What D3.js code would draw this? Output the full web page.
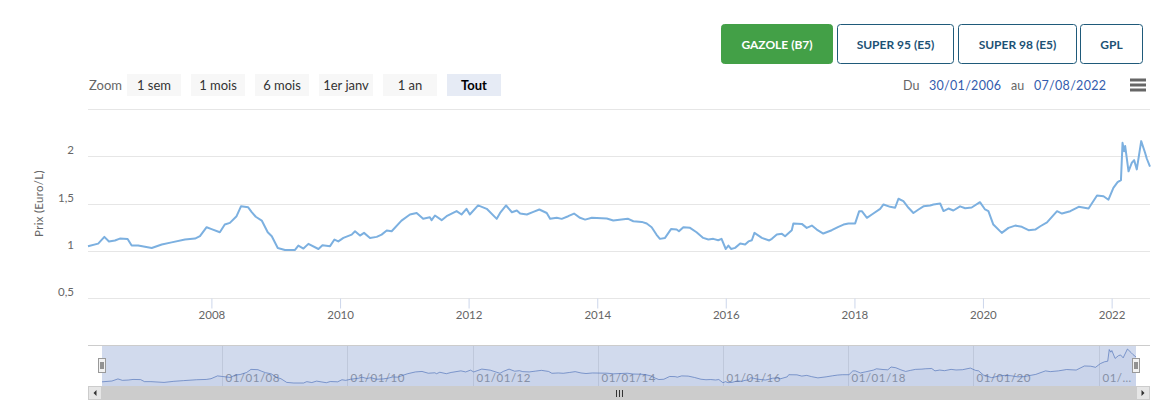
<!DOCTYPE html>
<html><head><meta charset="utf-8">
<script src="https://cdn.jsdelivr.net/npm/d3@7"></script>
<style>
html,body{margin:0;padding:0;background:#fff;}
svg{display:block;font-family:Lato,"Open Sans",sans-serif;}
</style></head>
<body><svg id="c" width="1166" height="410"></svg>
<script>
const fuelButtons = ["GAZOLE (B7)","SUPER 95 (E5)","SUPER 98 (E5)","GPL"];
const zoomButtons = ["1 sem","1 mois","6 mois","1er janv","1 an","Tout"];
const yTickValues = [0.5,1,1.5,2,2.5];
const rangeFrom = "30/01/2006", rangeTo = "07/08/2022";
const yTitle = "Prix (Euro/L)";
const dates = ["2006-01-30","2006-03-29","2006-05-03","2006-05-29","2006-07-02","2006-07-30","2006-09-12","2006-10-05","2006-11-11","2007-01-27",
"2007-03-25","2007-05-20","2007-08-04","2007-09-30","2007-10-28","2007-12-05","2008-01-02","2008-02-18","2008-03-17","2008-04-15",
"2008-05-23","2008-06-17","2008-07-28","2008-08-17","2008-09-09","2008-10-13","2008-11-16","2008-12-09","2009-01-12","2009-02-22",
"2009-04-20","2009-05-09","2009-06-07","2009-07-05","2009-08-31","2009-09-23","2009-11-05","2009-11-30","2009-12-22","2010-01-20",
"2010-03-08","2010-03-27","2010-04-24","2010-05-17","2010-06-20","2010-07-28","2010-08-25","2010-09-23","2010-10-21","2010-12-16",
"2011-02-02","2011-03-12","2011-04-18","2011-05-26","2011-06-05","2011-06-24","2011-08-01","2011-08-29","2011-10-25","2011-11-22",
"2011-12-20","2012-01-08","2012-02-24","2012-04-13","2012-06-09","2012-06-28","2012-08-01","2012-09-03","2012-10-01","2012-10-20",
"2012-11-27","2013-01-03","2013-02-06","2013-03-20","2013-04-08","2013-05-16","2013-06-13","2013-07-20","2013-08-22","2013-09-25",
"2013-10-24","2013-12-01","2014-02-24","2014-04-02","2014-06-23","2014-07-25","2014-09-11","2014-10-09","2014-11-06","2014-12-04",
"2014-12-23","2015-01-21","2015-02-24","2015-03-28","2015-04-10","2015-05-05","2015-06-12","2015-07-19","2015-08-26","2015-09-24",
"2015-10-22","2015-11-19","2015-12-08","2016-01-01","2016-01-16","2016-01-31","2016-02-23","2016-03-23","2016-04-20","2016-05-09",
"2016-05-28","2016-06-12","2016-07-24","2016-09-04","2016-09-19","2016-10-17","2016-11-15","2016-12-03","2017-01-10","2017-01-19",
"2017-03-08","2017-04-05","2017-05-04","2017-06-01","2017-07-08","2017-08-25","2017-10-02","2017-10-31","2017-11-28","2018-01-05",
"2018-01-28","2018-02-12","2018-03-13","2018-04-10","2018-05-27","2018-06-15","2018-07-23","2018-08-20","2018-09-08","2018-10-06",
"2018-11-04","2018-12-02","2018-12-31","2019-01-28","2019-03-07","2019-03-26","2019-05-03","2019-05-22","2019-06-19","2019-07-17",
"2019-08-24","2019-09-22","2019-10-29","2019-12-15","2020-01-13","2020-02-01","2020-02-29","2020-04-17","2020-05-25","2020-07-02",
"2020-08-09","2020-09-16","2020-10-24","2020-11-22","2020-12-30","2021-02-25","2021-03-25","2021-05-11","2021-06-28","2021-08-23",
"2021-10-10","2021-11-16","2021-12-14","2022-01-11","2022-02-04","2022-02-23","2022-03-04","2022-03-13","2022-03-19","2022-04-07",
"2022-04-26","2022-05-09","2022-05-24","2022-06-18","2022-07-10","2022-07-20","2022-08-07"];
const prices = [1.05,1.077,1.148,1.10,1.11,1.13,1.125,1.056,1.056,1.03,
1.067,1.09,1.12,1.13,1.155,1.25,1.23,1.197,1.278,1.296,
1.366,1.47,1.46,1.41,1.36,1.32,1.197,1.155,1.03,1.01,
1.01,1.056,1.025,1.074,1.02,1.06,1.05,1.12,1.10,1.137,
1.172,1.207,1.162,1.19,1.137,1.148,1.172,1.215,1.207,1.32,
1.384,1.40,1.34,1.355,1.324,1.373,1.324,1.366,1.42,1.384,
1.444,1.384,1.48,1.444,1.338,1.40,1.479,1.408,1.426,1.394,
1.384,1.412,1.437,1.40,1.338,1.349,1.338,1.366,1.394,1.349,
1.33,1.349,1.341,1.32,1.34,1.313,1.306,1.289,1.25,1.17,
1.127,1.137,1.23,1.225,1.207,1.25,1.243,1.197,1.137,1.12,
1.127,1.112,1.127,1.02,1.056,1.021,1.032,1.077,1.067,1.10,
1.112,1.19,1.137,1.11,1.127,1.172,1.18,1.155,1.218,1.29,
1.285,1.243,1.267,1.225,1.183,1.218,1.254,1.278,1.29,1.29,
1.419,1.419,1.349,1.384,1.444,1.49,1.465,1.455,1.55,1.524,
1.455,1.40,1.437,1.47,1.479,1.49,1.50,1.42,1.447,1.426,
1.47,1.45,1.458,1.514,1.437,1.419,1.278,1.19,1.243,1.267,
1.254,1.218,1.225,1.26,1.30,1.419,1.394,1.419,1.465,1.447,
1.585,1.577,1.54,1.665,1.725,1.746,2.14,2.05,2.106,1.84,
1.93,1.957,1.86,2.158,2.035,1.972,1.888];

(function(){
const parse = d3.timeParse("%Y-%m-%d");
const data = dates.map((d,i)=>({date:parse(d), v:prices[i]}));
const svg = d3.select("#c");

// ---- top fuel buttons
const fb = [{x:721,w:112},{x:837,w:117},{x:958,w:119},{x:1080,w:63}];
fuelButtons.forEach((t,i)=>{
  const g = svg.append("g");
  const active = i===0;
  g.append("rect").attr("x",fb[i].x+0.5).attr("y",24.5).attr("width",fb[i].w-1).attr("height",39).attr("rx",3)
    .attr("fill",active?"#43a047":"#fff").attr("stroke",active?"#43a047":"#1f5a7a").attr("stroke-width",1);
  g.append("text").attr("x",fb[i].x+fb[i].w/2).attr("y",48.5).attr("text-anchor","middle")
    .attr("font-size",12).attr("font-weight",700).attr("fill",active?"#fff":"#1d5275").text(t);
});

// ---- range selector
svg.append("text").attr("x",89).attr("y",90).attr("font-size",13).attr("fill","#666").text("Zoom");
zoomButtons.forEach((t,i)=>{
  const bx = 127 + i*64, sel = t==="Tout";
  svg.append("rect").attr("x",bx).attr("y",74).attr("width",54).attr("height",22).attr("fill",sel?"#e6ebf5":"#f7f7f7");
  svg.append("text").attr("x",bx+27).attr("y",90).attr("text-anchor","middle").attr("font-size",13)
    .attr("font-weight",sel?700:400).attr("fill",sel?"#000":"#333").text(t);
});
const dateParts = [["Du",903,"#666"],[rangeFrom,929,"#335cad"],["au",1011,"#666"],[rangeTo,1034,"#335cad"]];
dateParts.forEach(([t,tx,c])=>svg.append("text").attr("x",tx).attr("y",90).attr("font-size",12.5)
  .attr("letter-spacing",t.length>3?0.3:0).attr("fill",c).text(t));
[80,85,90].forEach(yy=>svg.append("rect").attr("x",1130).attr("y",yy-1.5).attr("width",16).attr("height",3).attr("fill","#666"));

// ---- main plot
const pL=88, pR=1150, pT=108.7, pB=298.3;
const x = d3.scaleTime().domain(d3.extent(data,d=>d.date)).range([pL,pR]);
const y = d3.scaleLinear().domain([0.5,2.5]).range([pB,pT]);
const fmt = v => String(v).replace(".",",");

const grid = svg.append("g");
yTickValues.forEach(v=>{
  grid.append("line").attr("x1",pL).attr("x2",pR).attr("y1",Math.round(y(v))+0.5).attr("y2",Math.round(y(v))+0.5)
    .attr("stroke","#e6e6e6").attr("stroke-width",1);
  if (v<2.5) grid.append("text").attr("x",74).attr("y",y(v)-2).attr("text-anchor","end")
    .attr("font-size",11.5).attr("fill","#666").text(fmt(v));
});
svg.append("text").attr("transform",`translate(43,${(pT+pB)/2}) rotate(-90)`).attr("text-anchor","middle")
  .attr("font-size",11.5).attr("fill","#666").attr("letter-spacing",0.3).text(yTitle);

const xAxis = d3.axisBottom(x).ticks(d3.timeYear.every(2)).tickFormat(d3.timeFormat("%Y")).tickSize(10).tickPadding(8);
const ax = svg.append("g").attr("transform",`translate(0,${Math.round(pB)+0.5})`).call(xAxis);
ax.select(".domain").remove();
ax.selectAll(".tick line").attr("stroke","#ccd6eb");
ax.selectAll(".tick text").attr("font-size",11.5).attr("fill","#666").attr("font-family","Lato,sans-serif").attr("dy","0.2em");
ax.selectAll(".tick").filter(d=>x(d)<pL+10||x(d)>pR-5).remove();

svg.append("path").datum(data).attr("fill","none").attr("stroke","#7cb0e0").attr("stroke-width",2)
  .attr("stroke-linejoin","round").attr("d",d3.line().x(d=>x(d.date)).y(d=>y(d.v)));

// ---- navigator
const nTop=345, nBot=386, nL=102, nR=1136;
const nx = d3.scaleTime().domain(x.domain()).range([nL,nR]);
const ny = d3.scaleLinear().domain(d3.extent(data,d=>d.v)).range([383,349]);
const nav = svg.append("g");
nx.ticks(d3.timeYear.every(2)).forEach(t=>{
  const px = Math.round(nx(t))+0.5;
  nav.append("line").attr("x1",px).attr("x2",px).attr("y1",nTop).attr("y2",nBot).attr("stroke","#e6e6e6");
  const lab = nav.append("text").attr("x",px+3).attr("y",382).attr("font-size",11.5).attr("fill","#999")
     .attr("letter-spacing",0.5).text(d3.timeFormat("%d/%m/%y")(t));
  let s = lab.text();
  while (px+3+lab.node().getComputedTextLength() > nR && s.length>1) { s = s.slice(0,-1); lab.text(s+"…"); }
});
nav.append("path").datum(data).attr("fill","#335cad").attr("fill-opacity",0.05)
  .attr("d",d3.area().x(d=>nx(d.date)).y0(nBot).y1(d=>ny(d.v)));
nav.append("path").datum(data).attr("fill","none").attr("stroke","#335cad").attr("stroke-width",1).attr("stroke-opacity",0.6)
  .attr("d",d3.line().x(d=>nx(d.date)).y(d=>ny(d.v)));
nav.append("rect").attr("x",nL).attr("y",nTop).attr("width",nR-nL).attr("height",nBot-nTop).attr("fill","rgba(102,133,194,0.3)");
nav.append("line").attr("x1",pL).attr("x2",pR).attr("y1",nTop+0.5).attr("y2",nTop+0.5).attr("stroke","#cccccc");
[nL,nR].forEach(hx=>{
  const g = nav.append("g").attr("transform",`translate(${Math.round(hx)-4},358)`);
  g.append("rect").attr("x",0.5).attr("y",0.5).attr("width",7).attr("height",14).attr("fill","#f2f2f2").attr("stroke","#999");
  g.append("line").attr("x1",3).attr("x2",3).attr("y1",4).attr("y2",11).attr("stroke","#333");
  g.append("line").attr("x1",5).attr("x2",5).attr("y1",4).attr("y2",11).attr("stroke","#333");
});

// ---- scrollbar
const sb = svg.append("g");
sb.append("rect").attr("x",pL).attr("y",386).attr("width",pR-pL).attr("height",14).attr("fill","#f2f2f2");
sb.append("rect").attr("x",nL).attr("y",386).attr("width",nR-nL).attr("height",14).attr("fill","#cccccc");
[[pL,"l"],[nR,"r"]].forEach(([bx,dir])=>{
  sb.append("rect").attr("x",bx+0.5).attr("y",386.5).attr("width",13).attr("height",13).attr("fill","#e6e6e6").attr("stroke","#cccccc");
  const cx = bx+7, cy=393;
  sb.append("path").attr("fill","#333").attr("d", dir==="l" ? `M${cx+1.5},${cy-3}L${cx-1.5},${cy}L${cx+1.5},${cy+3}Z` : `M${cx-1.5},${cy-3}L${cx+1.5},${cy}L${cx-1.5},${cy+3}Z`);
});
const mid = Math.round((nL+nR)/2);
[-3,0,3].forEach(d=>sb.append("line").attr("x1",mid+d+0.5).attr("x2",mid+d+0.5).attr("y1",390).attr("y2",397).attr("stroke","#333"));
})();
</script></body></html>
